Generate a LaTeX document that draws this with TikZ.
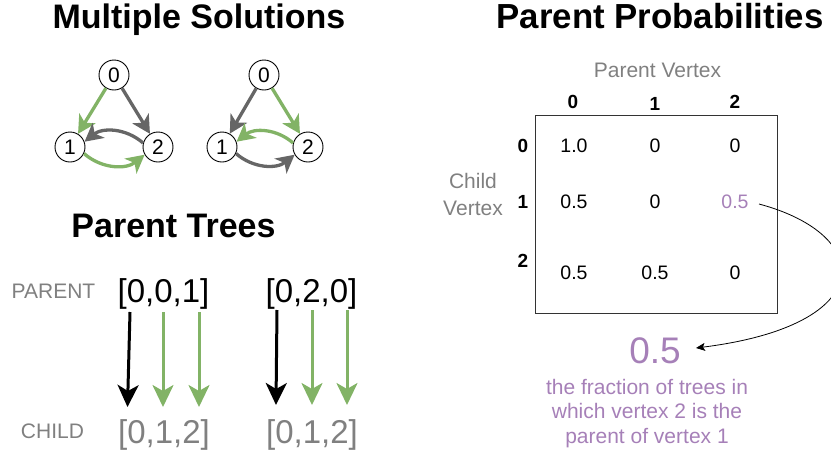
\documentclass[tikz,border=0pt]{standalone}
\usepackage{fontspec}
\setmainfont{Liberation Sans}
\usetikzlibrary{arrows.meta}
\definecolor{grn}{HTML}{82B366}
\definecolor{dgray}{HTML}{666666}
\definecolor{lgray}{HTML}{808080}
\definecolor{purp}{HTML}{A680B8}
\begin{document}
\begin{tikzpicture}[x=1pt,y=-1pt,
  title/.style={font=\fontsize{34}{38}\selectfont\bfseries, anchor=base, inner sep=0pt},
  vtx/.style={circle,draw,line width=0.9pt,minimum size=30pt,inner sep=0pt,font=\fontsize{21}{24}\selectfont,fill=white},
  gedge/.style={line width=3.3pt,-{Stealth[length=18pt,width=19pt,inset=5pt]}},
  tedge/.style={line width=3pt,-{Stealth[length=22pt,width=21pt,inset=6pt]}},
  arr/.style={font=\fontsize{33}{38}\selectfont, anchor=base, inner sep=0pt},
  lab/.style={font=\fontsize{21}{24}\selectfont, anchor=base, inner sep=0pt, text=lgray},
  hdr/.style={font=\fontsize{19}{22}\selectfont\bfseries, anchor=base, inner sep=0pt},
  cell/.style={font=\fontsize{19.5}{22}\selectfont, anchor=base, inner sep=0pt},
  captxt/.style={font=\fontsize{21}{25}\selectfont, anchor=base, inner sep=0pt, text=purp},
]
\useasboundingbox (0,0) rectangle (831,453);
\clip (0,0) rectangle (831,453);

% titles
\node[title] (t1) at (199,28) {Multiple Solutions};
\node[title,font=\fontsize{34.8}{38}\selectfont\bfseries] (t2) at (660,28) {Parent Probabilities};
\node[title] (t3) at (173.5,237) {Parent Trees};

% graph 1
\node[vtx] (a0) at (114,75) {0};
\node[vtx] (a1) at (70,147) {1};
\node[vtx] (a2) at (158,147) {2};
\draw[gedge,grn] (a0) -- (a1);
\draw[gedge,dgray] (a0) -- (a2);
\draw[gedge,dgray] (a2.165) to[bend right=40] (a1.20);
\draw[gedge,grn] (a1.-25) to[bend right=40] (a2.-150);

% graph 2
\node[vtx] (b0) at (264,75) {0};
\node[vtx] (b1) at (222,147) {1};
\node[vtx] (b2) at (308,147) {2};
\draw[gedge,dgray] (b0) -- (b1);
\draw[gedge,grn] (b0) -- (b2);
\draw[gedge,grn] (b2.165) to[bend right=40] (b1.20);
\draw[gedge,dgray] (b1.-25) to[bend right=40] (b2.-150);

% parent trees
\node[lab] (plab) at (53.5,298) {PARENT};
\node[lab] (clab) at (52.5,438) {CHILD};
\node[arr] (p1) at (163.5,302) {[0,0,1]};
\node[arr] (p2) at (311.5,302) {[0,2,0]};
\node[arr,text=lgray] (c1) at (164,443) {[0,1,2]};
\node[arr,text=lgray] (c2) at (312,443) {[0,1,2]};
\coordinate (s1) at (130,312); \coordinate (e1) at (127.5,407);
\coordinate (s2) at (163,312); \coordinate (e2) at (163,407);
\coordinate (s3) at (199,312); \coordinate (e3) at (199,407);
\coordinate (s4) at (277,310); \coordinate (e4) at (276,405);
\coordinate (s5) at (312,310); \coordinate (e5) at (312,405);
\coordinate (s6) at (347,310); \coordinate (e6) at (347,405);
\draw[tedge,black] (s1) -- (e1);
\draw[tedge,grn] (s2) -- (e2);
\draw[tedge,grn] (s3) -- (e3);
\draw[tedge,black] (s4) -- (e4);
\draw[tedge,grn] (s5) -- (e5);
\draw[tedge,grn] (s6) -- (e6);

% matrix
\node[font=\fontsize{21}{24}\selectfont, anchor=base, inner sep=0pt, text=lgray] (pv) at (657.5,77) {Parent Vertex};
\node[lab] (cv1) at (473,188) {Child};
\node[lab] (cv2) at (473,215) {Vertex};
\draw[line width=0.9pt, black!80] (535,115) rectangle (777,313);
\node[hdr] (h0) at (573,108) {0};
\node[hdr] (h1) at (655,110) {1};
\node[hdr] (h2) at (735,108) {2};
\node[hdr] (r0) at (523,152) {0};
\node[hdr] (r1) at (523,208) {1};
\node[hdr] (r2) at (523,267) {2};
\node[cell] (m00) at (574,152) {1.0};
\node[cell] (m01) at (655,152) {0};
\node[cell] (m02) at (735,152) {0};
\node[cell] (m10) at (574,208) {0.5};
\node[cell] (m11) at (655,208) {0};
\node[cell,text=purp] (m12) at (735,208) {0.5};
\node[cell] (m20) at (574,279) {0.5};
\node[cell] (m21) at (655,279) {0.5};
\node[cell] (m22) at (735,279) {0};

% annotation
\node[font=\fontsize{37}{42}\selectfont, anchor=base, inner sep=0pt, text=purp] (big) at (655,363) {0.5};
\node[captxt] (cap1) at (647,394) {the fraction of trees in};
\node[captxt] (cap2) at (647,418.5) {which vertex 2 is the};
\node[captxt] (cap3) at (647,443) {parent of vertex 1};
\coordinate (cs) at (759,204);
\coordinate (ce) at (696,348);
\draw[line width=0.8pt,-{Stealth[length=9pt,width=8pt,inset=2pt]}] (cs) .. controls (875,235) and (880,325) .. (ce);
\end{tikzpicture}
\end{document}
